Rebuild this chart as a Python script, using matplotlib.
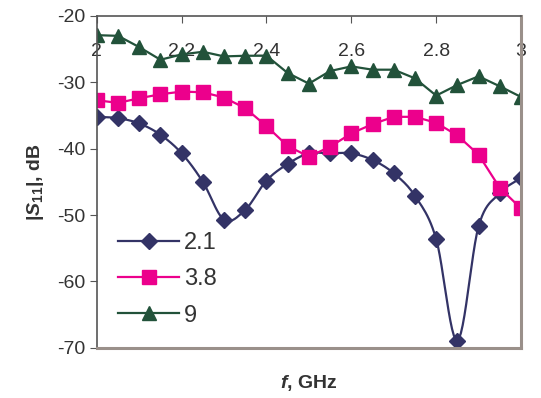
import matplotlib.pyplot as plt
import numpy as np

plt.rcParams['font.family'] = 'Liberation Sans'
plt.rcParams['axes.unicode_minus'] = False
plt.rcParams['mathtext.fontset'] = 'custom'
plt.rcParams['mathtext.rm'] = 'Liberation Sans:bold'
plt.rcParams['mathtext.it'] = 'Liberation Sans:bold:italic'
plt.rcParams['mathtext.bf'] = 'Liberation Sans:bold'

freq = [2.0, 2.05, 2.1, 2.15, 2.2, 2.25, 2.3, 2.35, 2.4, 2.45, 2.5,
        2.55, 2.6, 2.65, 2.7, 2.75, 2.8, 2.85, 2.9, 2.95, 3.0]
s11_21 = [-35.2, -35.4, -36.2, -37.9, -40.7, -45.0, -50.7, -49.2, -44.8, -42.3, -40.7,
          -40.7, -40.7, -41.7, -43.7, -47.1, -53.6, -68.9, -51.7, -46.7, -44.4]
s11_38 = [-32.7, -33.1, -32.4, -31.8, -31.4, -31.5, -32.3, -33.9, -36.6, -39.6, -41.2,
          -39.7, -37.7, -36.3, -35.2, -35.2, -36.1, -38.0, -40.9, -45.9, -49.0]
s11_9 = [-22.9, -23.0, -24.7, -26.6, -25.8, -25.4, -26.1, -26.0, -26.0, -28.6, -30.2,
         -28.3, -27.6, -28.1, -28.1, -29.4, -32.0, -30.4, -29.1, -30.6, -32.2]
labels = ['2.1', '3.8', '9']


def smooth(x, y, n=12):
    # cardinal spline through the points, like a spreadsheet "smoothed line"
    x = np.asarray(x, float)
    y = np.asarray(y, float)
    px = np.concatenate([[2 * x[0] - x[1]], x, [2 * x[-1] - x[-2]]])
    py = np.concatenate([[2 * y[0] - y[1]], y, [2 * y[-1] - y[-2]]])
    xs, ys = [], []
    t = np.linspace(0, 1, n, endpoint=False)
    for i in range(1, len(px) - 2):
        p0, p1, p2, p3 = [np.array([px[j], py[j]]) for j in range(i - 1, i + 3)]
        m1 = (p2 - p0) / 2
        m2 = (p3 - p1) / 2
        h00 = 2 * t**3 - 3 * t**2 + 1
        h10 = t**3 - 2 * t**2 + t
        h01 = -2 * t**3 + 3 * t**2
        h11 = t**3 - t**2
        pts = np.outer(h00, p1) + np.outer(h10, m1) + np.outer(h01, p2) + np.outer(h11, m2)
        xs.extend(pts[:, 0])
        ys.extend(pts[:, 1])
    xs.append(x[-1])
    ys.append(y[-1])
    return xs, ys


fig = plt.figure(figsize=(5.41, 3.98), dpi=100)
ax = fig.add_axes([0.179, 0.126, 0.784, 0.834])

navy = '#333366'
pink = '#ec008c'
green = '#22523a'

sx, sy = smooth(freq, s11_21)
ax.plot(sx, sy, color=navy, lw=1.6)
ax.plot(freq, s11_21, 'D', color=navy, ms=8.5)
ax.plot(freq, s11_38, '-s', color=pink, lw=1.6, ms=9.5)
ax.plot(freq, s11_9, '-^', color=green, lw=1.6, ms=10)

# legend proxies
h1, = ax.plot([], [], '-D', color=navy, lw=1.6, ms=8.5)
h2, = ax.plot([], [], '-s', color=pink, lw=1.6, ms=9.5)
h3, = ax.plot([], [], '-^', color=green, lw=1.6, ms=10)
ax.legend([h1, h2, h3], labels, loc='lower left', bbox_to_anchor=(0.0, 0.0),
          frameon=False, fontsize=17, handlelength=2.6, handletextpad=0.2,
          labelspacing=0.6, labelcolor='#333333')

ax.set_xlim(2, 3)
ax.set_ylim(-70, -20)
ax.set_xticks([2, 2.2, 2.4, 2.6, 2.8, 3])
ax.set_xticklabels(['2', '2.2', '2.4', '2.6', '2.8', '3'])
ax.set_yticks(range(-70, -19, 10))
ax.xaxis.tick_top()
ax.tick_params(axis='x', direction='in', pad=-32, labelsize=14, labelcolor='#333333',
               length=5, color='#555555')
ax.tick_params(axis='y', direction='out', labelsize=14, labelcolor='#333333',
               length=5, color='#555555')

for s in ['top', 'left']:
    ax.spines[s].set_color('#555555')
    ax.spines[s].set_linewidth(1.2)
for s in ['bottom', 'right']:
    ax.spines[s].set_color('#9a908a')
    ax.spines[s].set_linewidth(2.2)

ax.set_ylabel(r'|$S_{\rm 11}$|, dB', fontsize=14, fontweight='bold', color='#333333',
              labelpad=8)
fig.text(0.5 * (0.179 + 0.963), 1 - 383 / 398, r'$f$, GHz', fontsize=14,
         fontweight='bold', color='#333333', ha='center', va='center')

fig.savefig('out.png', dpi=100)
